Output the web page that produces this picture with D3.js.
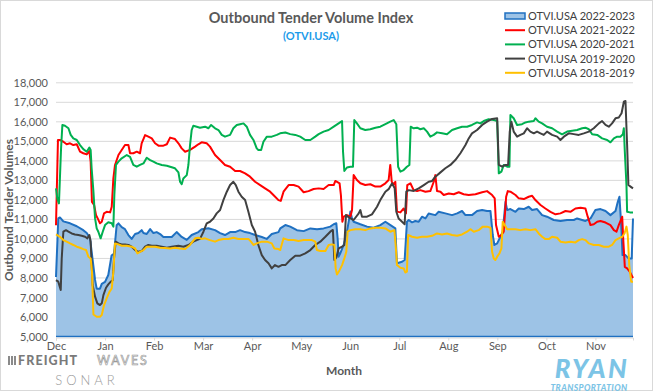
<!DOCTYPE html>
<html><head><meta charset="utf-8">
<script src="https://cdn.jsdelivr.net/npm/d3@7"></script>
<style>html,body{margin:0;padding:0;background:#fff;}svg{display:block;font-family:Lato,"Open Sans",sans-serif;}</style>
</head><body><div id="chart"></div>
<script>
// ---- data (x = day offset from Dec 1, y = tender volume) ----
const monthLabels = ["Dec","Jan","Feb","Mar","Apr","May","Jun","Jul","Aug","Sep","Oct","Nov"];
const monthTickDays = [0,30,60,90,120,150,180,210,240,270,300,330];
const yTicks = [5000,6000,7000,8000,9000,10000,11000,12000,13000,14000,15000,16000,17000,18000];
const seriesNames = ["OTVI.USA 2022-2023","OTVI.USA 2021-2022","OTVI.USA 2020-2021","OTVI.USA 2019-2020","OTVI.USA 2018-2019"];

const otvi2223 = [[0,8050],[1.4,11050],[2.4,11100],[4.5,10900],[8.6,10800],[12.7,10650],[16.7,10450],[18.8,10300],[20.8,10050],[21.8,9350],[23.9,7900],[24.9,7450],[26.9,7450],[28,7700],[30,7800],[32,8150],[34,9150],[35.5,9250],[37.1,10700],[38.2,10800],[40.2,10600],[42.2,10500],[44.3,10200],[46.3,10000],[48.4,10250],[50.4,10300],[52.4,10450],[53.5,10300],[55.5,10250],[57.6,10500],[59.6,10300],[61.6,10350],[63.7,10250],[65.7,10100],[70.8,10100],[73.8,10350],[76.9,10100],[80,9950],[83,10200],[87.1,10350],[89.1,10500],[93.2,10550],[97.3,10450],[100.4,10300],[103.4,10200],[106.5,10350],[109.6,10350],[112.6,10450],[115.7,10350],[118.7,10300],[121.8,10200],[125.9,10100],[128.9,10000],[132,10250],[136.1,10350],[137.2,10540],[140.3,10710],[143.3,10630],[147.4,10450],[151.5,10400],[155.6,10540],[159.7,10500],[163.7,10540],[167.8,10630],[169.9,10750],[171.5,10800],[172.3,10030],[172.9,9090],[173.9,9260],[176,9690],[178,10370],[180.1,11400],[181.1,11050],[182.1,10880],[186.2,10750],[190.3,10630],[194.3,10570],[198.4,10710],[201.5,10880],[204.6,10710],[207.6,10540],[208.6,8750],[211.7,8830],[213.3,8920],[214.7,10880],[215.8,10970],[217.8,10850],[219.8,10920],[221.9,10880],[223.9,11140],[226,11050],[228,11300],[232.1,11220],[234.1,11390],[238.2,11310],[242.3,11220],[245.4,11310],[248.4,11430],[250.5,11220],[254.5,11220],[257.6,11430],[260.7,11480],[263.7,11430],[265.8,11430],[267.2,10200],[268.2,9690],[269.9,9770],[271.9,10110],[273.3,10370],[275,11900],[276,11480],[278,11530],[281.1,11390],[283.1,11560],[286.2,11530],[289.2,11650],[291.3,11480],[294.3,11530],[297.4,11220],[300.4,11140],[304.5,10970],[308.6,10920],[312.7,10970],[316.8,10970],[318.8,11050],[321.9,10970],[323.9,10920],[327,11050],[330,11480],[333.1,11530],[336.2,11430],[339.2,11220],[342.3,11430],[343.7,11900],[344.7,12160],[345.8,10710],[346.6,9170],[348.4,9170],[350.4,9000],[352.2,9000],[353,11050]];

const otvi2122 = [[0,10700],[1.2,15070],[2.4,15070],[4.5,14980],[6.5,14850],[8.6,14900],[10.6,14810],[12.7,14850],[14.7,14470],[16.7,14390],[18.8,14330],[20.4,14500],[21.2,13960],[22,11900],[23.3,11740],[24.5,11220],[25.5,11050],[26.9,10800],[28,10880],[29.4,11310],[31,11390],[33.1,11360],[34.1,11650],[35.1,13100],[36.1,13790],[38.2,14300],[40.2,14560],[42.2,14810],[44.3,14810],[45.3,14390],[47.3,14390],[49.4,14470],[51.4,14390],[52.4,14900],[54.5,15320],[56.5,15240],[58.6,15150],[60.6,14900],[62.7,14780],[65.7,14780],[67.8,14850],[69.8,15190],[72.8,15120],[74.9,14900],[76.9,14640],[79,14470],[82,14560],[85.1,14730],[87.1,14850],[89.1,14950],[92.2,14900],[94.2,14730],[97.3,14300],[100.4,14040],[103.4,13790],[106.5,13700],[109.6,13480],[112.6,13480],[115.7,13360],[118.7,13190],[121.8,12930],[124.9,12760],[127.9,12590],[131,12420],[133,12250],[136.1,11990],[137.5,11950],[139.2,12420],[142.3,12760],[145.4,12760],[148.4,12680],[151.5,12390],[154.5,12450],[157.6,12560],[160.7,12590],[163.7,12560],[166.8,12760],[169.9,12760],[170.9,12970],[173.5,12850],[174.3,12250],[175.2,10880],[176,11140],[178,11220],[180.1,11140],[181.1,11480],[182.1,13270],[184.1,13020],[186.2,12850],[189.2,12760],[192.3,12800],[195.4,12680],[198.4,12680],[201.5,12850],[203.5,13020],[204.5,13790],[205.4,12930],[206.6,12800],[207.6,12930],[208.6,11400],[210.7,11360],[212.7,11560],[214.1,11310],[214.9,12760],[216.8,12850],[218.8,12500],[220.9,12450],[222.9,12500],[226,12420],[229,12450],[231.1,12930],[232.1,13270],[233.1,12450],[235.2,12420],[237.2,12250],[240.3,12330],[243.3,12290],[246.4,12390],[249.4,12290],[252.5,12250],[256.6,12290],[260.7,12390],[263.7,12450],[266.8,12250],[268.4,12080],[269.2,10710],[270.9,10110],[272.5,10200],[273.9,10370],[275.4,12160],[276.4,12450],[278,12420],[281.1,12250],[283.1,12080],[286.2,12040],[289.2,12160],[291.3,12210],[293.3,11990],[296.4,11740],[299.4,11560],[302.5,11390],[305.6,11260],[308.6,11310],[311.7,11430],[314.7,11390],[317.8,11560],[320.9,11600],[323.9,11560],[325.3,11140],[327,10710],[329,10750],[331.1,10880],[333.1,10920],[336.2,10840],[339.2,10710],[341.3,10450],[342.9,10370],[344.3,10710],[346.4,11140],[347,10030],[348,8570],[349.4,8490],[351,8320],[353,8000]];

const otvi2021 = [[0,12590],[0.8,12080],[1.8,11820],[3.1,14650],[3.9,15840],[5.5,15800],[7.6,15670],[9,15330],[10.6,15150],[12.7,15070],[14.7,14810],[16.7,14600],[18.8,14470],[20.4,14680],[21.2,14560],[21.8,13620],[22.9,12420],[23.9,11050],[24.9,10540],[25.9,10370],[27.3,10030],[28.6,10370],[30,10710],[32,10850],[34.1,10800],[35.1,10630],[35.7,12250],[36.7,13790],[38.2,13960],[40.2,14130],[43.3,14300],[45.3,14210],[47.3,13790],[49.4,13700],[51.4,13790],[53.5,13870],[55.5,14160],[57.6,14040],[59.6,13960],[61.6,13870],[64.7,13790],[67.8,13750],[69.8,13700],[72.8,13620],[74.9,13410],[75.9,12930],[76.9,12800],[77.9,13100],[80,13270],[81,13790],[82,14810],[83,15580],[84,15800],[86.1,15750],[88.1,15700],[91.2,15750],[93.2,15670],[94.9,15840],[97.3,15670],[99.4,15580],[101.4,15330],[103.4,15240],[106.5,15330],[108.5,15670],[110.6,15840],[112.6,15880],[114.7,15920],[116.7,15750],[118.7,15330],[120.8,15070],[122.8,14640],[123.8,14560],[125.5,14560],[126.9,14980],[129,15240],[132,15240],[135.1,15330],[137.1,15410],[140.3,15450],[143.3,15370],[146.4,15330],[149.4,15240],[152.5,15070],[155.6,15070],[158.6,15240],[160.7,15370],[163.7,15500],[166.8,15580],[169.9,15750],[172.9,15920],[175,16040],[175.6,14470],[176.4,13480],[178,13660],[180.1,13700],[181.7,13700],[182.5,16090],[184.1,15920],[186.2,15670],[189.2,15580],[192.3,15620],[195.4,15700],[198.4,15750],[201.5,15880],[204.5,16010],[206.6,16090],[208.2,15880],[209.3,13700],[210.7,13450],[212.7,13530],[214.7,13700],[216.2,13790],[217,15750],[218.8,15670],[220.9,15700],[222.9,15620],[225,15670],[227,15500],[229,15240],[231.1,15330],[233.1,15460],[236.2,15410],[239.2,15360],[242.3,15580],[245.4,15670],[248.4,15750],[251.5,15750],[254.5,15840],[257.6,15970],[259.6,15920],[261.7,16040],[264.7,16130],[267.8,16090],[269.9,16040],[270.9,13360],[272.5,13450],[273.9,13790],[276,13700],[277.4,13700],[278,16350],[280,16180],[282.1,15840],[285.1,15880],[287.2,15970],[289.2,16010],[292.3,16040],[293.3,16180],[295.3,16010],[297.4,15920],[300.4,15750],[303.5,15670],[306.6,15500],[309.6,15360],[312.7,15500],[315.8,15540],[318.8,15580],[321.9,15670],[323.9,15700],[326,15620],[328,15360],[331.1,15330],[334.1,15150],[337.2,15070],[339.2,14950],[341.3,15150],[343.3,15240],[345.3,15240],[346.8,15360],[347.4,15670],[348,14470],[349,12760],[349.4,11390],[351.1,11360],[353,11360]];

const otvi1920 = [[0,7890],[1.4,7810],[2.9,7380],[3.5,9000],[4.5,10370],[6.1,10450],[7.6,10370],[9.6,10280],[11.6,10230],[13.7,10200],[15.7,10160],[17.8,10110],[19.2,10030],[20.4,10200],[21.2,9860],[22.4,7640],[23.9,7040],[25.3,6700],[26.9,6610],[28,6700],[29,7120],[30.6,7500],[32,7670],[33.5,7810],[34.7,7890],[35.5,9000],[36.5,9860],[38.2,9770],[40.2,9720],[42.2,9720],[44.3,9690],[46.3,9600],[48.4,9430],[50.4,9340],[52.4,9380],[54.5,9600],[56.5,9690],[58.6,9650],[61.6,9650],[64.7,9600],[67.8,9550],[70.8,9600],[74.9,9650],[77.9,9600],[81,9690],[84,9860],[86.1,9940],[88.1,10000],[90.2,10370],[92.2,10800],[94.2,10880],[96.3,11050],[98.3,11310],[100.4,11480],[102.4,11990],[104.5,12420],[106.5,12760],[108.5,12930],[110,12760],[111.6,12420],[113.6,12160],[115.7,11990],[117.7,11390],[119.8,10710],[121.8,10370],[123.8,9690],[125.9,9170],[127.9,8920],[130,8750],[132,8490],[134,8660],[136.1,8570],[138.1,8660],[140.3,8660],[143.3,8920],[146.4,9140],[149.4,9140],[152.5,9260],[155.6,9430],[158.6,9690],[161.7,9860],[164.8,10110],[167.8,10370],[169.4,10460],[170.3,8920],[171.5,9040],[172.9,9510],[175,9600],[176.4,9690],[177.4,11220],[178.6,11140],[180.1,11050],[182.1,10970],[185.2,11310],[186.2,11480],[187.2,11140],[190.3,11140],[193.3,11260],[196.4,11650],[198.4,11990],[201.5,12420],[203.5,12550],[205.6,12850],[207.2,12590],[208.2,11390],[209.6,11050],[211.7,10880],[213.3,10750],[214.3,12420],[215.8,12500],[218.8,12460],[221.9,12590],[225,12760],[228,12930],[230.1,12970],[232.1,13190],[235.2,13410],[238.2,13620],[241.3,13790],[244.3,14040],[247.4,14390],[250.5,14810],[252.5,15150],[254.5,15410],[257.6,15580],[260.7,15840],[263.7,16010],[266.8,16150],[269.9,16180],[270.9,13790],[272.9,13700],[275,13790],[276.6,13790],[277.6,15500],[278.6,16010],[280,15500],[282.1,15240],[284.1,15330],[286.2,15410],[288.2,15670],[290.2,15500],[292.3,15410],[294.3,15500],[296.4,15410],[298.4,15330],[300.4,15500],[303.5,15330],[306.6,15240],[308.6,15070],[310.7,15240],[313.7,15410],[316.8,15370],[319.8,15330],[322.9,15410],[326,15500],[329,15670],[332.1,15920],[334.1,16040],[336.2,15840],[338.2,15750],[340.2,15920],[342.3,16180],[344.3,16220],[346,16440],[347.4,17030],[348.4,17070],[349.4,14810],[350.2,12760],[351.5,12680],[353,12590]];

const otvi1819 = [[0,10230],[2.4,10110],[4.5,9940],[6.5,9860],[8.6,9770],[10.6,9690],[12.7,9600],[14.7,9550],[16.7,9480],[18.4,9430],[19.8,9090],[21.2,9000],[22,8320],[22.9,6130],[24.9,6010],[26.9,6010],[28,6100],[29.4,6610],[31,6950],[32.7,7290],[34.1,7460],[35.1,8320],[36.1,9770],[38.2,9720],[40.2,9650],[43.3,9650],[46.3,9600],[48.4,9510],[49.8,9260],[51.4,9340],[53.5,9430],[55.5,9600],[57.6,9600],[60.6,9600],[63.7,9550],[66.7,9530],[69.8,9510],[72.8,9550],[75.9,9510],[79,9480],[82,9690],[85.1,10030],[87.1,10060],[89.1,10000],[91.2,10030],[94.2,9940],[97.3,9860],[99.4,9940],[102.4,10000],[105.5,10000],[108.5,10060],[111.6,10000],[114.7,10000],[117.7,10000],[119.3,9860],[120.8,9690],[122.8,9770],[125.9,9860],[129,9860],[132,9770],[133.6,9510],[136.1,9480],[137.2,9430],[139.2,10030],[142.3,9940],[145.4,9940],[148.4,9890],[151.5,9940],[154.5,9940],[156.6,9940],[158.6,9860],[159.6,9430],[161.7,9380],[164.8,9380],[166.8,9690],[168.8,9720],[170.3,9690],[171.1,8490],[171.9,8180],[173.5,8400],[175,8660],[176.4,9000],[177.6,9340],[178.4,10370],[180.1,10450],[183.1,10500],[186.2,10500],[189.2,10450],[192.3,10540],[195.4,10570],[198.4,10570],[201.5,10540],[204.5,10370],[207,10450],[207.8,9690],[208.6,8660],[210.7,8520],[212.7,8490],[213.7,8280],[214.7,8320],[215.4,10200],[217.8,10110],[220.9,10060],[223.9,10110],[227,10110],[230.1,10160],[233.1,10280],[236.2,10230],[239.2,10280],[242.3,10200],[245.4,10160],[248.4,10230],[251.5,10370],[253.5,10500],[255.6,10370],[258.6,10450],[261.1,10630],[263.7,10630],[265.8,10570],[266.8,9340],[267.8,9000],[268.8,8920],[269.9,9090],[271.3,9260],[272.5,9510],[273.3,10880],[274.5,10710],[276,10500],[278,10500],[281.1,10500],[284.1,10450],[287.2,10500],[290.2,10450],[293.3,10500],[295.3,10280],[297.4,10110],[299.4,9990],[301.5,9990],[303.5,10110],[306.6,10060],[308.6,9860],[311.7,9820],[314.7,9860],[317.8,9820],[319.8,9940],[321.9,9990],[323.9,9940],[326,9770],[329,9690],[332.1,9690],[335.1,9600],[338.2,9600],[340.2,9690],[342.3,9940],[344.3,10030],[346.4,10110],[347.8,10280],[349,10630],[349.8,10200],[350.7,8660],[351.9,7810],[353,7810]];

// ---- drawing ----
const W = 653, H = 392;
const FONT = "Lato,'Open Sans',sans-serif";
const svg = d3.select("#chart").append("svg").attr("width", W).attr("height", H);
svg.append("rect").attr("x",0.5).attr("y",0.5).attr("width",W-1).attr("height",H-2)
  .attr("fill","#fff").attr("stroke","#D9D9D9");

const x = d3.scaleLinear().domain([0,353]).range([56,633]);
const y = d3.scaleLinear().domain([5000,18000]).range([336.5,82.8]);

// gridlines
svg.append("g").selectAll("line").data(yTicks.slice(1)).join("line")
  .attr("x1",56).attr("x2",633).attr("y1",d=>y(d)).attr("y2",d=>y(d))
  .attr("stroke","#D9D9D9").attr("stroke-width",1);

// y axis
const yAxis = svg.append("g").attr("transform","translate(48,0)")
  .call(d3.axisLeft(y).tickValues(yTicks).tickFormat(d3.format(",")).tickSize(0).tickPadding(0));
yAxis.select(".domain").remove();
yAxis.selectAll("text").attr("fill","#595959").style("font-size","11px").style("font-family",FONT);

// area series
const area = d3.area().x(d=>x(d[0])).y0(y(5000)).y1(d=>y(d[1]));
const line = d3.line().x(d=>x(d[0])).y(d=>y(d[1]));
svg.append("path").datum(otvi2223).attr("d",area).attr("fill","#9DC3E6");
svg.append("path").datum(otvi2223).attr("d",line).attr("fill","none")
  .attr("stroke","#1F70C1").attr("stroke-width",2).attr("stroke-linejoin","round");
svg.append("line").attr("x1",x(0)).attr("x2",x(353)).attr("y1",y(5000)).attr("y2",y(5000))
  .attr("stroke","#1F70C1").attr("stroke-width",1.5);

// x axis
const xAxis = svg.append("g").attr("transform",`translate(0,${y(5000)+1})`)
  .call(d3.axisBottom(x).tickValues(monthTickDays).tickFormat((d,i)=>monthLabels[i]).tickSize(3).tickPadding(2));
xAxis.select(".domain").attr("stroke","#D9D9D9");
xAxis.selectAll(".tick line").attr("stroke","#D9D9D9");
xAxis.selectAll("text").attr("fill","#595959").style("font-size","11px").style("font-family",FONT);

// line series
const lineSeries = [
  {data:otvi2122, color:"#FF0000"},
  {data:otvi2021, color:"#00B050"},
  {data:otvi1920, color:"#404040"},
  {data:otvi1819, color:"#FFC000"}
];
lineSeries.forEach(s=>{
  svg.append("path").datum(s.data).attr("d",line).attr("fill","none")
    .attr("stroke",s.color).attr("stroke-width",2).attr("stroke-linejoin","round");
});

// titles
svg.append("text").attr("x",311).attr("y",23).attr("text-anchor","middle")
  .attr("fill","#595959").style("font-size","14.5px").style("font-weight","bold")
  .text("Outbound Tender Volume Index");
svg.append("text").attr("x",311).attr("y",40).attr("text-anchor","middle")
  .attr("fill","#1C9BEA").style("font-size","11px").style("font-weight","bold")
  .text("(OTVI.USA)");
svg.append("text").attr("transform","translate(13,210) rotate(-90)").attr("text-anchor","middle")
  .attr("fill","#595959").style("font-size","12px").style("font-weight","bold")
  .text("Outbound Tender Volumes");
svg.append("text").attr("x",344).attr("y",375).attr("text-anchor","middle")
  .attr("fill","#595959").style("font-size","12px").style("font-weight","bold").text("Month");

// legend
const legColors = ["#1F70C1","#FF0000","#00B050","#404040","#FFC000"];
const leg = svg.append("g");
seriesNames.forEach((name,i)=>{
  const cy = 16 + i*14.2;
  if(i===0){
    leg.append("rect").attr("x",505).attr("y",cy-3).attr("width",20).attr("height",6)
      .attr("fill","#9DC3E6").attr("stroke","#1F70C1").attr("stroke-width",1.5);
  } else {
    leg.append("line").attr("x1",505).attr("x2",525).attr("y1",cy).attr("y2",cy)
      .attr("stroke",legColors[i]).attr("stroke-width",2);
  }
  leg.append("text").attr("x",528).attr("y",cy+4).attr("fill","#404040")
    .style("font-size","11px").text(name);
});

// logos (as text)
const fw = svg.append("g");
[0,3,6].forEach(dx=>fw.append("rect").attr("x",8+dx).attr("y",356).attr("width",2).attr("height",9).attr("fill","#8a8a8a"));
fw.append("text").attr("x",18).attr("y",365).attr("fill","#7a7a7a")
  .style("font-size","12.5px").style("font-weight","900").style("letter-spacing","1.1px").text("FREIGHT");
fw.append("text").attr("x",97).attr("y",365).attr("fill","#fff").attr("stroke","#9a9a9a").attr("stroke-width",0.7)
  .style("font-size","12.5px").style("font-weight","400").style("letter-spacing","1.8px").text("WAVES");
fw.append("text").attr("x",87).attr("y",385).attr("text-anchor","middle").attr("fill","#9a9a9a")
  .style("font-size","13px").style("font-weight","300").style("letter-spacing","4px").text("SONAR");

svg.append("text").attr("x",592).attr("y",377.8).attr("text-anchor","middle").attr("fill","#7CC4E6")
  .style("font-size","26px").style("font-weight","900").style("font-style","italic").style("letter-spacing","2.4px").text("RYAN");
svg.append("text").attr("x",589).attr("y",390.5).attr("text-anchor","middle").attr("fill","#7CC4E6")
  .style("font-size","8.5px").style("font-weight","900").style("font-style","italic").style("letter-spacing","0.4px").text("TRANSPORTATION");
</script></body></html>
